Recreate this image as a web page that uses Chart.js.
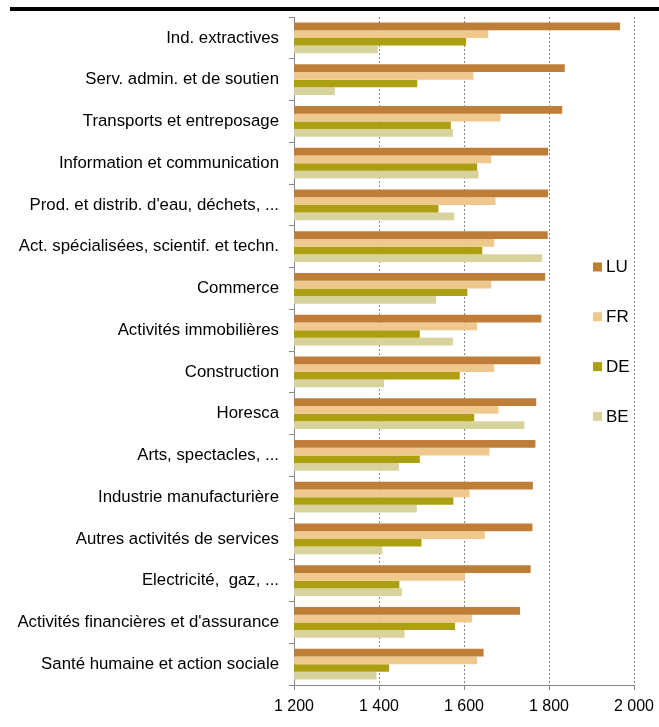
<!DOCTYPE html>
<html><head><meta charset="utf-8">
<script src="https://cdn.jsdelivr.net/npm/chart.js@4"></script>
<style>
html,body{margin:0;padding:0;background:#fff;}
#wrap{position:relative;width:659px;height:727px;}
#topline{position:absolute;left:10px;top:7px;width:649px;height:4px;background:#000;}
canvas{position:absolute;left:0;top:0;}
</style></head><body>
<div id="wrap"><canvas id="c" width="659" height="727"></canvas><div id="topline"></div></div>
<script>
const categories = [
  "Ind. extractives",
  "Serv. admin. et de soutien",
  "Transports et entreposage",
  "Information et communication",
  "Prod. et distrib. d'eau, déchets, ...",
  "Act. spécialisées, scientif. et techn.",
  "Commerce",
  "Activités immobilières",
  "Construction",
  "Horesca",
  "Arts, spectacles, ...",
  "Industrie manufacturière",
  "Autres activités de services",
  "Electricité,  gaz, ...",
  "Activités financières et d'assurance",
  "Santé humaine et action sociale"
];
const seriesNames = ["LU", "FR", "DE", "BE"];
const LU = [1967, 1837, 1831, 1798, 1798, 1797, 1791, 1782, 1780, 1770, 1768, 1762, 1761, 1757, 1732, 1646];
const FR = [1657, 1622, 1686, 1664, 1674, 1671, 1664, 1631, 1671, 1681, 1660, 1613, 1649, 1602, 1619, 1631];
const DE = [1605, 1490, 1569, 1631, 1540, 1643, 1608, 1496, 1590, 1624, 1496, 1575, 1500, 1448, 1579, 1424];
const BE = [1397, 1296, 1574, 1634, 1577, 1784, 1534, 1574, 1412, 1742, 1447, 1489, 1408, 1454, 1460, 1394];
const xTicks = [1200, 1400, 1600, 1800, 2000];
const colors = ["#BE7E38", "#EFC88E", "#AD9F12", "#D8D39D"];

const FONT = '"Liberation Sans", Arial, sans-serif';
const GRAY = '#878787';

const sideLegend = {
  id: 'sideLegend',
  afterDraw(chart) {
    const ctx = chart.ctx;
    ctx.save();
    chart.data.datasets.forEach((ds, i) => {
      const y = 267 + i * 49.8;
      ctx.fillStyle = ds.backgroundColor;
      ctx.fillRect(593, y - 4.5, 9, 9);
      ctx.fillStyle = '#000';
      ctx.font = '17px ' + FONT;
      ctx.textBaseline = 'middle';
      ctx.textAlign = 'left';
      ctx.fillText(ds.label, 606, y + 0.5);
    });
    ctx.restore();
  }
};

const fmt = v => String(v).replace(/\B(?=(\d{3})+(?!\d))/g, ' ');

new Chart(document.getElementById('c'), {
  type: 'bar',
  data: {
    labels: categories,
    datasets: [LU, FR, DE, BE].map((d, i) => ({
      label: seriesNames[i],
      data: d,
      backgroundColor: colors[i],
      borderWidth: 0,
      categoryPercentage: 0.74,
      barPercentage: 1.0
    }))
  },
  options: {
    indexAxis: 'y',
    responsive: false,
    animation: false,
    devicePixelRatio: 1,
    layout: { padding: { top: 17, right: 25, left: 0, bottom: 0 } },
    plugins: { legend: { display: false }, tooltip: { enabled: false } },
    scales: {
      x: {
        min: 1200, max: 2000,
        afterBuildTicks: s => { s.ticks = xTicks.map(v => ({ value: v })); },
        afterFit: s => { s.height = 42; s.paddingRight = 0; s.paddingLeft = 0; },
        ticks: {
          callback: v => fmt(v),
          color: '#000',
          font: { family: FONT, size: 16 },
          padding: 7,
          maxRotation: 0,
          autoSkip: false
        },
        grid: {
          color: c => (c.tick && c.tick.value === 1200) ? 'rgba(0,0,0,0)' : GRAY,
          lineWidth: 1,
          drawTicks: true,
          tickLength: 5,
          tickColor: GRAY,
          tickBorderDash: []
        },
        border: { display: true, color: GRAY, width: 1, dash: [2, 2] }
      },
      y: {
        afterFit: s => { s.width = 294; s.paddingTop = 0; s.paddingBottom = 0; },
        ticks: {
          color: '#000',
          font: { family: FONT, size: 16.8 },
          padding: 10,
          autoSkip: false
        },
        grid: {
          offset: true,
          drawOnChartArea: false,
          drawTicks: true,
          tickLength: 5,
          tickColor: GRAY,
          color: GRAY
        },
        border: { display: true, color: GRAY, width: 1 }
      }
    }
  },
  plugins: [sideLegend]
});
</script>
</body></html>
